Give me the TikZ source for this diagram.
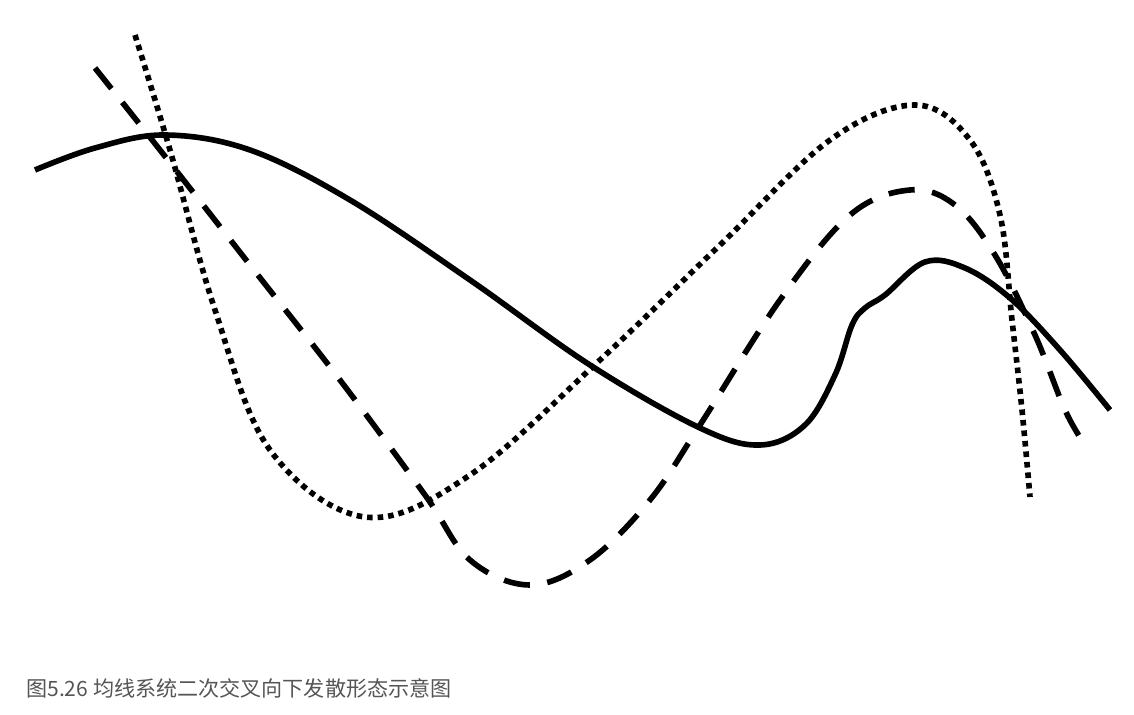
\documentclass[tikz,border=0pt]{standalone}
\usepackage{fontspec}
\usepackage{xcolor}
\newfontfamily\cjk{Noto Sans CJK SC}
\definecolor{captiongray}{HTML}{555555}

\begin{document}
\begin{tikzpicture}[x=0.02cm,y=-0.02cm,
    curve/.style={line width=3.2pt,line cap=butt},
    dashcurve/.style={curve,dash pattern=on 15pt off 10pt},
    dotcurve/.style={curve,dash pattern=on 3.2pt off 2.8pt}]
  \useasboundingbox (0,0) rectangle (1134,715);

  % solid line
  \draw[curve] plot[smooth,tension=0.6] coordinates {
    (35,170) (95,148) (165,135) (250,150) (350,200) (470,280)
    (590,365) (700,428) (760,445) (805,425) (835,375) (852,325)
    (865,308) (885,295) (925,262) (965,268) (1010,298) (1060,350) (1110,410)};

  % dashed line
  \draw[dashcurve] plot[smooth,tension=0.6] coordinates {
    (95,68) (160,150) (250,265) (340,380) (425,495) (470,560)
    (530,585) (590,560) (650,500) (700,425) (780,300) (850,215)
    (910,190) (955,205) (995,255) (1035,335) (1065,410) (1085,445)};

  % dotted line
  \draw[dotcurve] plot[smooth,tension=0.6] coordinates {
    (135,35) (170,150) (215,310) (270,450) (365,517) (470,475)
    (600,360) (720,245) (830,140) (915,105) (970,140) (1000,215)
    (1012,320) (1022,410) (1030,497)};

  \node[anchor=base west,inner sep=0pt,text=captiongray,font=\cjk\fontsize{12pt}{14pt}\selectfont]
    (caption) at (26,697) {图5.26 均线系统二次交叉向下发散形态示意图};
\end{tikzpicture}
\end{document}
